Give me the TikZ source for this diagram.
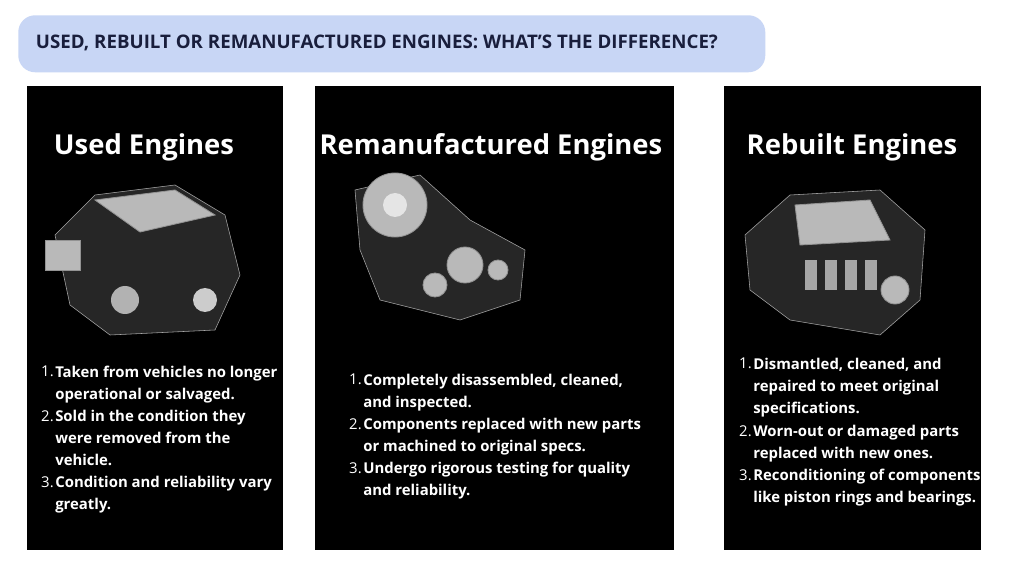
\documentclass[tikz,border=0pt]{standalone}
\usepackage{fontspec}
\setmainfont{Open Sans}
\definecolor{headblue}{RGB}{200,214,245}
\definecolor{headtext}{RGB}{25,30,60}
\tikzset{
  panel/.style={fill=black, draw=none},
  ptitle/.style={text=white, font=\fontsize{19.5}{22}\selectfont\bfseries, anchor=base},
  itemtext/.style={text=white, font=\fontsize{10.6}{15.6}\selectfont\bfseries, align=left, anchor=north west, inner sep=0pt},
  itemnum/.style={text=white, font=\fontsize{10.6}{15.6}\selectfont, anchor=north east, inner sep=0pt},
  metal/.style={fill=gray!55, draw=gray!85, line width=0.6pt},
  darkmetal/.style={fill=gray!30!black, draw=gray!70}
}
\begin{document}
\begin{tikzpicture}[x=0.025cm, y=-0.025cm]
  \useasboundingbox (0,0) rectangle (1024,576);
  \fill[white] (0,0) rectangle (1024,576);

  % header
  \node[fill=headblue, rounded corners=12pt, minimum width=747*0.025cm, minimum height=57*0.025cm,
        anchor=north west, inner sep=0pt] (head) at (18,15) {};
  \node[anchor=west, text=headtext, font=\fontsize{13.3}{15}\selectfont\bfseries] (htxt) at (31,43)
    {USED, REBUILT OR REMANUFACTURED ENGINES: WHAT’S THE DIFFERENCE?};

  % panels
  \fill[panel] (27,86) rectangle (283,550);
  \fill[panel] (315,86) rectangle (674,550);
  \fill[panel] (724,86) rectangle (981,550);

  \node[ptitle] (t1) at (144,155) {Used Engines};
  \node[ptitle] (t2) at (491,155) {Remanufactured Engines};
  \node[ptitle] (t3) at (852,155) {Rebuilt Engines};

  % engine pictures (rough)
  \draw[darkmetal] (55,235) -- (95,195) -- (175,185) -- (225,215) -- (240,275) -- (215,330) -- (110,335) -- (70,305) -- cycle;
  \draw[metal] (95,200) -- (175,190) -- (215,215) -- (140,232) -- cycle;
  \fill[gray!60] (125,300) circle (14);
  \fill[gray!40] (205,300) circle (12);
  \draw[metal] (45,240) rectangle (80,270);
  \draw[darkmetal] (355,190) -- (420,175) -- (470,220) -- (525,250) -- (520,300) -- (460,320) -- (380,300) -- (360,250) -- cycle;
  \draw[metal] (395,205) circle (32);
  \fill[gray!20] (395,205) circle (12);
  \draw[metal] (465,265) circle (18);
  \draw[metal] (435,285) circle (12);
  \draw[metal] (498,270) circle (10);
  \draw[darkmetal] (745,235) -- (790,195) -- (880,190) -- (925,230) -- (920,300) -- (880,335) -- (790,320) -- (750,290) -- cycle;
  \draw[metal] (795,205) -- (870,200) -- (890,240) -- (800,245) -- cycle;
  \foreach \x in {805,825,845,865} { \fill[gray!70] (\x,260) rectangle ++(12,30); }
  \draw[metal] (895,290) circle (14);

  % list 1
  \node[itemnum] (n11) at (54,366) {1.};
  \node[itemtext] (i11) at (55,366) {Taken from vehicles no longer\\operational or salvaged.};
  \node[itemnum] (n12) at (54,410) {2.};
  \node[itemtext] (i12) at (55,410) {Sold in the condition they\\were removed from the\\vehicle.};
  \node[itemnum] (n13) at (54,476) {3.};
  \node[itemtext] (i13) at (55,476) {Condition and reliability vary\\greatly.};

  % list 2
  \node[itemnum] (n21) at (362,374) {1.};
  \node[itemtext] (i21) at (363,374) {Completely disassembled, cleaned,\\and inspected.};
  \node[itemnum] (n22) at (362,418) {2.};
  \node[itemtext] (i22) at (363,418) {Components replaced with new parts\\or machined to original specs.};
  \node[itemnum] (n23) at (362,462) {3.};
  \node[itemtext] (i23) at (363,462) {Undergo rigorous testing for quality\\and reliability.};

  % list 3
  \node[itemnum] (n31) at (752,358) {1.};
  \node[itemtext] (i31) at (753,358) {Dismantled, cleaned, and\\repaired to meet original\\specifications.};
  \node[itemnum] (n32) at (752,425) {2.};
  \node[itemtext] (i32) at (753,425) {Worn-out or damaged parts\\replaced with new ones.};
  \node[itemnum] (n33) at (752,469) {3.};
  \node[itemtext] (i33) at (753,469) {Reconditioning of components\\like piston rings and bearings.};
\end{tikzpicture}
\end{document}
